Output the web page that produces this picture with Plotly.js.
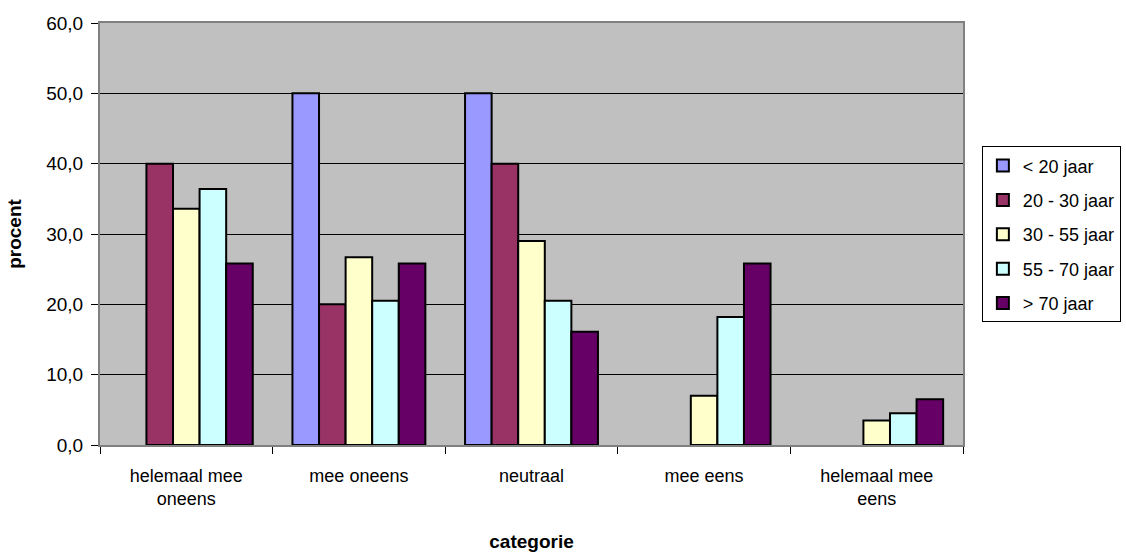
<!DOCTYPE html>
<html>
<head>
<meta charset="utf-8">
<script src="https://cdn.plot.ly/plotly-3.0.1.min.js"></script>
<style>html,body{margin:0;padding:0;background:#fff;}#chart{width:1126px;height:552px;}</style>
</head>
<body>
<div id="chart"></div>
<script>
const categories = ["helemaal mee<br>oneens", "mee oneens", "neutraal", "mee eens", "helemaal mee<br>eens"];
const seriesNames = ["< 20 jaar", "20 - 30 jaar", "30 - 55 jaar", "55 - 70 jaar", "> 70 jaar"];
const under20 = [null, 50.0, 50.0, null, null];
const age20to30 = [40.0, 20.0, 40.0, null, null];
const age30to55 = [33.6, 26.7, 29.0, 7.0, 3.5];
const age55to70 = [36.4, 20.5, 20.5, 18.2, 4.5];
const over70 = [25.8, 25.8, 16.1, 25.8, 6.5];
const colors = ["#9999FF", "#993366", "#FFFFCC", "#CCFFFF", "#660066"];
const seriesValues = [under20, age20to30, age30to55, age55to70, over70];

const font = "Liberation Sans, Arial, sans-serif";
const traces = seriesValues.map((vals, i) => ({
  type: "bar",
  name: seriesNames[i],
  x: categories,
  y: vals,
  legendgroup: "g" + i,
  marker: {color: colors[i], line: {color: "#000000", width: 2}},
  hoverinfo: "y+name"
}));

const layout = {
  width: 1126, height: 552,
  margin: {l: 100, r: 163, t: 23, b: 107},
  paper_bgcolor: "#ffffff",
  plot_bgcolor: "#C0C0C0",
  barmode: "group",
  bargap: 0.23,
  bargroupgap: 0,
  font: {family: font, size: 18, color: "#000"},
  xaxis: {
    type: "category",
    tickson: "boundaries",
    ticks: "outside", ticklen: 7, tickcolor: "#000",
    ticklabelstandoff: 13,
    showline: true, linecolor: "#808080", linewidth: 2, mirror: true,
    showgrid: false,
    tickfont: {family: font, size: 18},
    title: {text: "<b>categorie</b>", font: {family: font, size: 19}, standoff: 28}
  },
  yaxis: {
    range: [0, 60], dtick: 10, tickformat: ".1f",
    ticks: "outside", ticklen: 7, tickcolor: "#000",
    ticklabelstandoff: 4,
    showline: true, linecolor: "#808080", linewidth: 2, mirror: true,
    showgrid: true, gridcolor: "#000000", gridwidth: 1,
    zeroline: false,
    tickfont: {family: font, size: 19},
    title: {text: "<b>procent</b>", font: {family: font, size: 19}, standoff: 20}
  },
  separators: ",.",
  showlegend: true,
  legend: {
    xref: "container", yref: "container",
    x: 0.872, xanchor: "left", y: 0.735, yanchor: "top",
    bordercolor: "#000", borderwidth: 1, bgcolor: "#fff",
    font: {family: font, size: 18},
    traceorder: "grouped", tracegroupgap: 8,
    itemwidth: 30
  }
};
Plotly.newPlot("chart", traces, layout, {displayModeBar: false, staticPlot: true});
</script>
</body>
</html>
